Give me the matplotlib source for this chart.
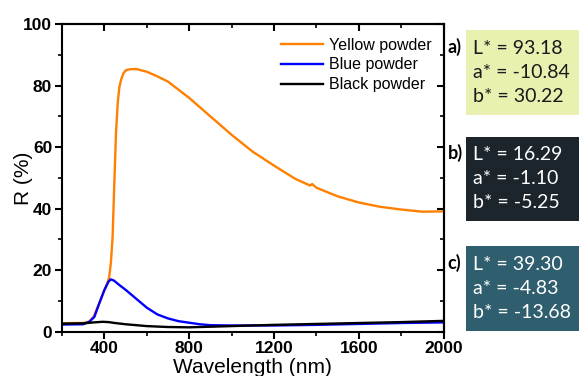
import matplotlib
matplotlib.use("Agg")
import matplotlib.pyplot as plt
from matplotlib.patches import Rectangle
from matplotlib.ticker import MultipleLocator

# reflectance spectra
yellow_wl = [200, 250, 300, 330, 350, 376, 400, 415, 423, 431, 439, 447, 455, 463, 471,
             479, 490, 502, 520, 550, 600, 650, 700, 800, 900, 1000, 1100, 1200, 1300,
             1370, 1380, 1400, 1500, 1600, 1700, 1800, 1900, 2000]
yellow_r = [2.7, 2.8, 2.8, 3.3, 5.0, 9.2, 13.5, 16.0, 17.8, 22.5, 30.9, 48.3, 64.6, 74.3, 79.5,
            81.9, 84.0, 85.0, 85.3, 85.4, 84.5, 83.0, 81.3, 76.0, 70.0, 64.0, 58.5, 54.0, 49.7,
            47.5, 48.0, 46.8, 44.0, 42.0, 40.6, 39.7, 39.0, 39.1]

blue_wl = [200, 300, 329, 353, 376, 400, 420, 431, 445, 470, 502, 557, 600, 650,
           700, 750, 800, 850, 900, 1000, 1200, 1400, 1600, 1800, 2000]
blue_r = [2.3, 2.4, 3.2, 4.8, 9.2, 13.5, 16.3, 17.0, 16.6, 15.2, 13.5, 10.3, 7.8, 5.6,
          4.3, 3.4, 2.9, 2.4, 2.1, 2.0, 2.0, 2.2, 2.5, 2.8, 3.0]

black_wl = [200, 300, 350, 392, 420, 450, 500, 600, 700, 800, 900, 1000, 1200, 1400,
            1600, 1800, 2000]
black_r = [2.6, 2.7, 3.0, 3.2, 3.1, 2.8, 2.4, 1.8, 1.5, 1.4, 1.6, 1.8, 2.2, 2.5, 2.8, 3.1, 3.5]

# CIELAB values shown in the boxes
box_tags = ["a)", "b)", "c)"]
box_texts = ["L* = 93.18\na* = -10.84\nb* = 30.22",
             "L* = 16.29\na* = -1.10\nb* = -5.25",
             "L* = 39.30\na* = -4.83\nb* = -13.68"]
box_colors = ["#e9f0b0", "#1c242c", "#2f5f6e"]
box_text_colors = ["#1a1a1a", "white", "white"]

plt.rcParams["font.family"] = ["Liberation Sans", "DejaVu Sans"]

fig = plt.figure(figsize=(5.79, 3.76), dpi=100)
ax = fig.add_axes([0.107, 0.118, 0.659, 0.818])

ax.plot(yellow_wl, yellow_r, color="#ff8000", lw=1.7, label="Yellow powder")
ax.plot(blue_wl, blue_r, color="#0000ff", lw=1.7, label="Blue powder")
ax.plot(black_wl, black_r, color="black", lw=1.7, label="Black powder")

ax.set_xlim(200, 2000)
ax.set_ylim(0, 100)
ax.xaxis.set_major_locator(MultipleLocator(400))
ax.xaxis.set_minor_locator(MultipleLocator(200))
ax.yaxis.set_major_locator(MultipleLocator(20))
ax.yaxis.set_minor_locator(MultipleLocator(10))
ax.tick_params(which="major", direction="out", length=5, width=1.5, labelsize=12.5, pad=2)
ax.tick_params(which="minor", direction="out", length=3, width=1.2)
for lab in ax.get_xticklabels() + ax.get_yticklabels():
    lab.set_fontweight("bold")
for sp in ax.spines.values():
    sp.set_linewidth(1.5)

# mirrored ticks pointing inward on top and right
top = ax.secondary_xaxis("top")
top.xaxis.set_major_locator(MultipleLocator(400))
top.xaxis.set_minor_locator(MultipleLocator(200))
top.tick_params(which="major", direction="in", length=5, width=1.5, labeltop=False)
top.tick_params(which="minor", direction="in", length=3, width=1.2)
top.spines["top"].set_linewidth(1.5)
right = ax.secondary_yaxis("right")
right.yaxis.set_major_locator(MultipleLocator(20))
right.yaxis.set_minor_locator(MultipleLocator(10))
right.tick_params(which="major", direction="in", length=5, width=1.5, labelright=False)
right.tick_params(which="minor", direction="in", length=3, width=1.2)
right.spines["right"].set_linewidth(1.5)

ax.set_xlabel("Wavelength (nm)", fontsize=15, labelpad=1)
ax.set_ylabel("R (%)", fontsize=15)
ax.yaxis.set_label_coords(-0.076, 0.5)

ax.legend(loc="upper right", frameon=False, fontsize=11.5, handlelength=2.6,
          handletextpad=0.4, labelspacing=0.3, borderaxespad=0.35,
          bbox_to_anchor=(1.0, 0.995))

# colour boxes on the right
box_tops = [0.92, 0.636, 0.346]
for tag, txt, col, tcol, y0 in zip(box_tags, box_texts, box_colors, box_text_colors, box_tops):
    fig.patches.append(Rectangle((0.805, y0 - 0.225), 0.2, 0.225, transform=fig.transFigure,
                                 facecolor=col, edgecolor="none"))
    fig.text(0.773, y0 - 0.02, tag, fontsize=13, fontweight="bold", family="Lato",
             ha="left", va="top")
    fig.text(0.817, y0 - 0.112, txt, fontsize=14, family="Lato", color=tcol,
             ha="left", va="center", linespacing=1.5)

fig.savefig("out.png", dpi=100)
